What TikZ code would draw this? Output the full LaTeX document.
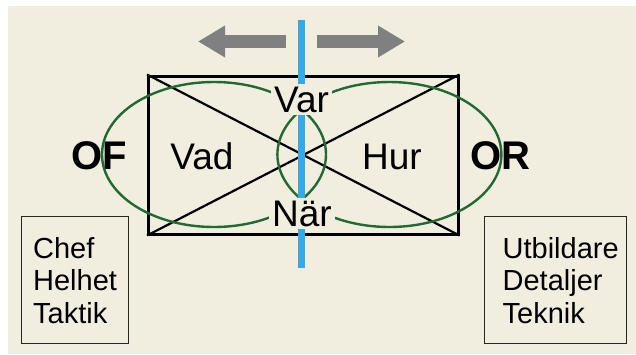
\documentclass[tikz,border=0pt]{standalone}
\usepackage{fontspec}
\setmainfont{Liberation Sans}
\usetikzlibrary{arrows.meta}
\definecolor{paper}{HTML}{F2EEDF}
\definecolor{lensgreen}{HTML}{1F6B31}
\definecolor{axisblue}{HTML}{36A9E8}
\definecolor{shiftgray}{HTML}{808080}
\tikzset{
  bigtext/.style={font=\fontsize{37}{44}\selectfont, inner sep=0pt, anchor=base},
  bigbold/.style={font=\fontsize{40}{48}\selectfont\bfseries, inner sep=0pt, anchor=base},
  gaptext/.style={bigtext, fill=paper, inner xsep=3pt, inner ysep=3pt},
  framebox/.style={draw=black, line width=3pt, minimum width=309.5pt, minimum height=158pt, inner sep=0pt},
  crossline/.style={black, line width=2.2pt},
  lensline/.style={lensgreen, line width=2.4pt},
  axisline/.style={axisblue, line width=6.5pt},
  shiftarrow/.style={shiftgray, line width=13pt, -{Triangle[length=27pt,width=30pt]}},
  rolebox/.style={draw=black!85, line width=1.3pt, anchor=north west, align=left,
    font=\fontsize{29}{32.5}\selectfont, minimum height=127pt}
}
\begin{document}
\begin{tikzpicture}[x=1pt,y=-1pt]
  \useasboundingbox (0,0) rectangle (636,354);
  \fill[paper] (8,6) rectangle (636,354);

  % shift arrows above the axis
  \coordinate (lt) at (286,41.5);
  \coordinate (lh) at (198,41.5);
  \coordinate (rt) at (317,41.5);
  \coordinate (rh) at (405,41.5);
  \draw[shiftarrow] (lt) -- (lh);
  \draw[shiftarrow] (rt) -- (rh);

  % frame with its diagonals
  \node[framebox] (box) at (303.25,155) {};
  \draw[crossline] (box.north west) -- (box.south east);
  \draw[crossline] (box.south west) -- (box.north east);

  % side labels
  \node[bigbold] (of) at (99,169) {OF};
  \node[bigbold] (or) at (500,169) {OR};
  \node[bigtext] (vad) at (202,169) {Vad};
  \node[bigtext] (hur) at (392,169) {Hur};

  % two overlapping ellipses
  \draw[lensline] (214,154.5) ellipse [x radius=112pt, y radius=72.5pt];
  \draw[lensline] (389.4,154.5) ellipse [x radius=112pt, y radius=72.5pt];

  % vertical axis
  \coordinate (atop) at (301.7,20);
  \coordinate (abot) at (301.7,268);
  \draw[axisline] (atop) -- (abot);

  \node[gaptext] (var) at (301.5,112) {Var};
  \node[gaptext] (nar) at (302,226) {När};

  % role boxes
  \node[rolebox, text width=84pt, inner xsep=11.5pt] (chef) at (21,216) {Chef\\Helhet\\Taktik};
  \node[rolebox, text width=106pt, inner xsep=18pt] (utb) at (484,216) {Utbildare\\Detaljer\\Teknik};
\end{tikzpicture}
\end{document}
